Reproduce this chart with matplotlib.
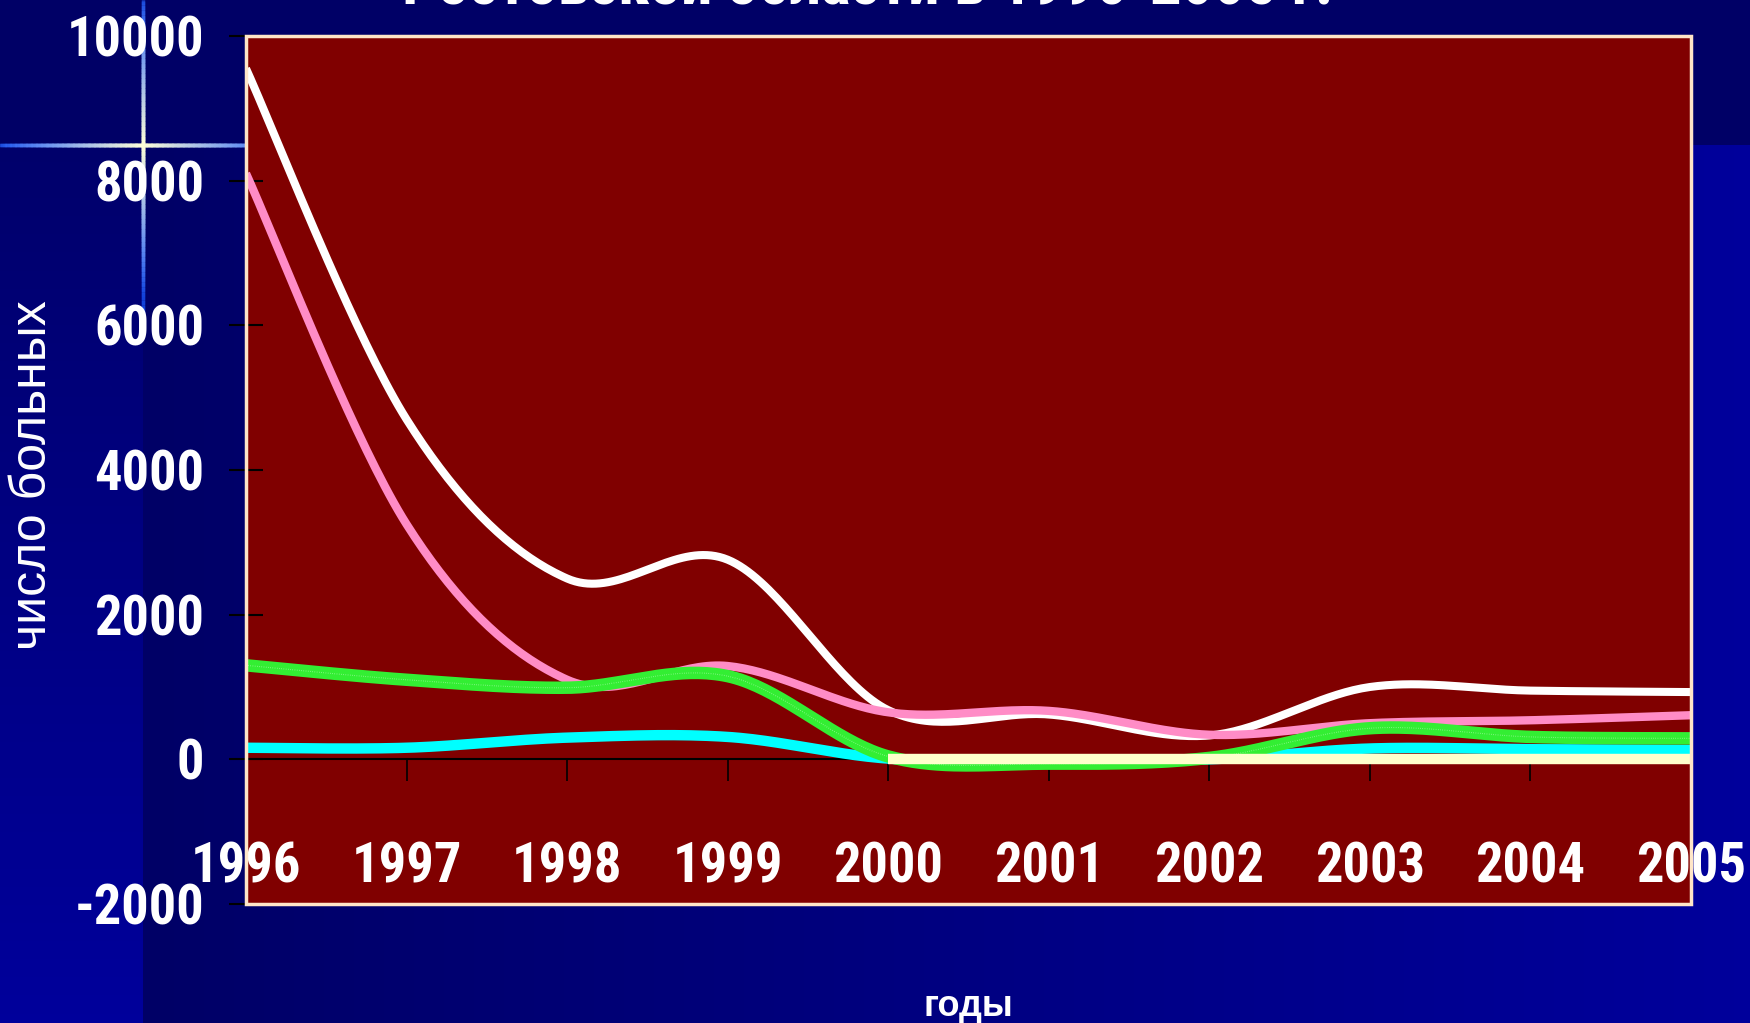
import numpy as np
import matplotlib
matplotlib.use('Agg')
import matplotlib.pyplot as plt
from matplotlib import font_manager
from matplotlib.font_manager import FontProperties
from matplotlib.patches import Rectangle

years = [1996, 1997, 1998, 1999, 2000, 2001, 2002, 2003, 2004, 2005]
white_vals = [9550, 4700, 2500, 2760, 680, 620, 330, 1000, 950, 930]
pink_vals = [8100, 3250, 1100, 1290, 650, 670, 340, 500, 540, 610]
green_vals = [1300, 1100, 990, 1150, 40, -60, 20, 430, 310, 290]
cyan_vals = [160, 160, 300, 310, 10, 0, 0, 150, 140, 130]
yellow_vals = [np.nan, np.nan, np.nan, np.nan, 0, 0, 0, 0, 0, 0]
y_ticks = [-2000, 0, 2000, 4000, 6000, 8000, 10000]
title = 'Ростовской области в 1996-2005 г.'


def find_condensed_bold():
    fl = font_manager.fontManager.ttflist
    for want in ['Liberation Sans Narrow', 'Roboto Condensed']:
        for f in fl:
            if f.name == want and f.weight in ('bold', 700) and f.style == 'normal':
                return f.fname
    for f in fl:
        fn = f.fname.lower()
        if ('condensed' in fn or 'narrow' in fn) and 'bold' in fn and 'oblique' not in fn and 'italic' not in fn:
            return f.fname
    return None


cond_path = find_condensed_bold()


def cond_font(size):
    if cond_path:
        return FontProperties(fname=cond_path, size=size)
    return FontProperties(family='Liberation Sans', weight='bold', size=size)


def excel_smooth(xs, ys, steps=40):
    # smoothed line like Excel: bezier through the points
    p = np.column_stack([xs, ys]).astype(float)
    p = np.vstack([p[0], p, p[-1]])
    t = np.linspace(0, 1, steps)[:, None]
    out = []
    for i in range(1, len(p) - 2):
        p0, p1, p2, p3 = p[i - 1], p[i], p[i + 1], p[i + 2]
        c1 = p1 + (p2 - p0) / 6
        c2 = p2 - (p3 - p1) / 6
        seg = (1 - t) ** 3 * p1 + 3 * (1 - t) ** 2 * t * c1 + 3 * (1 - t) * t ** 2 * c2 + t ** 3 * p2
        out.append(seg if i == 1 else seg[1:])
    c = np.vstack(out)
    return c[:, 0], c[:, 1]


W, H = 1750, 1023
fig = plt.figure(figsize=(W / 100, H / 100), dpi=100)
renderer = fig.canvas.get_renderer()


def fit_size(text, width_px, max_height_px):
    t = fig.text(0, 0, text, fontproperties=cond_font(40))
    bb = t.get_window_extent(renderer)
    t.remove()
    s = 40 * width_px / bb.width
    s_h = max_height_px / 0.72 / (100 / 72)
    return min(s, s_h)


tick_size = fit_size('10000', 138, 50)
title_size = fit_size(title, 930, 60)

# background
bg = fig.add_axes([0, 0, 1, 1])
bg.set_xlim(0, W)
bg.set_ylim(H, 0)
bg.axis('off')
img = np.zeros((H, W, 3))
xx = np.arange(W)[None, :]
yy = np.arange(H)[:, None]
blue = np.full((H, W), 0.40)
main = (xx >= 143) & (yy >= 145)
left = (xx < 143) & (yy >= 145)
blue = np.where(main, 0.40 + 0.21 * (xx - 143) / (W - 143), blue)
blue = np.where(left, 0.42 + 0.19 * (yy - 145) / (H - 145), blue)
img[:, :, 2] = blue
bg.imshow(img, extent=(0, W, H, 0), aspect='auto')


def flare(x0, y0, x1, y1, cx, cy, reach):
    n = 200
    px = np.linspace(x0, x1, n)
    py = np.linspace(y0, y1, n)
    for i in range(n - 1):
        d = np.hypot(px[i] - cx, py[i] - cy) / reach
        a = max(0.0, 1 - d)
        col = (1 - a) * np.array([0.1, 0.35, 1.0]) + a * np.array([1.0, 1.0, 0.85])
        bg.plot(px[i:i + 2], py[i:i + 2], color=col, lw=2.5, alpha=min(1, 0.35 + 1.2 * a))


flare(143, 0, 143, 330, 143, 145, 150)
flare(0, 145, 246, 145, 143, 145, 150)

ax = fig.add_axes([246 / W, 1 - 904 / H, (1691 - 246) / W, (904 - 36) / H])
ax.set_facecolor('#800000')
ax.set_xlim(1996, 2005)
ax.set_ylim(-2000, 10000)

series = [
    (white_vals, '#ffffff', 5.8, 3),
    (pink_vals, '#ff8cc6', 6.0, 3.1),
    (cyan_vals, '#00ffff', 7.5, 3.2),
    (green_vals, '#33ee33', 9.0, 3.3),
]
for vals, col, lw, z in series:
    sx, sy = excel_smooth(years, vals)
    ax.plot(sx, sy, color=col, lw=lw, zorder=z, solid_capstyle='butt')
    if col == '#33ee33':
        ax.plot(sx, sy, color='#a8f8a8', lw=0.8, ls=(0, (0.5, 1.5)), zorder=z + 0.01)

yy_yel = np.array(yellow_vals, float)
ok = ~np.isnan(yy_yel)
sx, sy = excel_smooth(np.array(years)[ok], yy_yel[ok])
ax.plot(sx, sy, color='#ffffcc', lw=7.5, zorder=3.5, solid_capstyle='butt')

for s in ['top', 'right', 'left']:
    ax.spines[s].set_visible(False)
ax.spines['bottom'].set_position(('data', 0))
ax.spines['bottom'].set_color('black')
ax.spines['bottom'].set_linewidth(1.5)
ax.spines['bottom'].set_zorder(2.5)
ax.add_patch(Rectangle((0, 0), 1, 1, transform=ax.transAxes, fill=False,
                       ec='#ffe6c8', lw=2.5, zorder=6, clip_on=False))

ax.set_xticks(years)
ax.set_xticklabels([str(y) for y in years])
ax.set_yticks(y_ticks)
ax.set_yticklabels([str(v) for v in y_ticks])
ax.tick_params(axis='x', direction='out', length=16, width=1.2, color='black',
               pad=43, labelcolor='white')
ax.tick_params(axis='y', direction='inout', length=24, width=1.5, color='black',
               pad=18, labelcolor='white')
for lab in ax.get_xticklabels() + ax.get_yticklabels():
    lab.set_fontproperties(cond_font(tick_size))
for lab in ax.get_xticklabels():
    lab.set_zorder(7)

fig.text(33 / W, 1 - 475 / H, 'число больных', rotation=90, ha='center', va='center',
         fontsize=36, color='white', family='Liberation Sans')
fig.text(968 / W, 1 - 1007 / H, 'годы', ha='center', va='center',
         fontsize=26, color='white', family='Liberation Sans', fontweight='bold')
fig.text(868 / W, 1 - 4 / H, title, ha='center', va='baseline',
         fontproperties=cond_font(title_size), color='white')

fig.savefig('out.png', dpi=100, facecolor='#000066')
